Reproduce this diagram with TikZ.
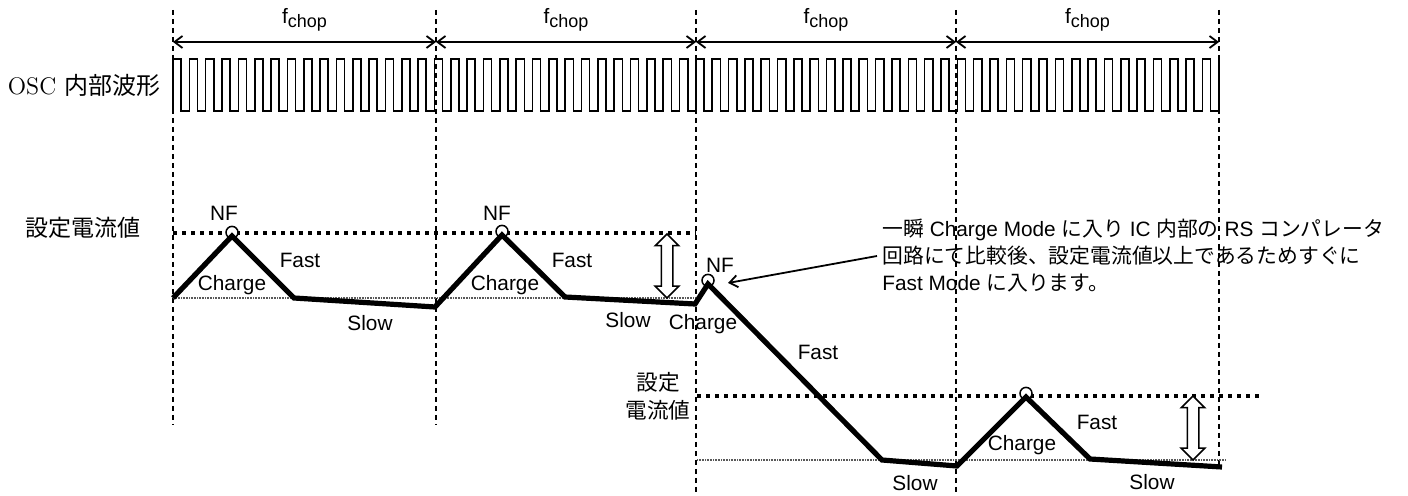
\documentclass[tikz,border=0pt]{standalone}
\usepackage{fontspec}
\newfontfamily\arialfont{Liberation Sans}
\newfontfamily\jpfont{Noto Sans CJK JP}
\newcommand{\jp}[1]{{\jpfont #1}}
\usetikzlibrary{positioning,shapes.arrows,arrows.meta}
\tikzset{
  >={Straight Barb[length=4pt,width=6pt]},
  period line/.style={line width=0.6pt, dash pattern=on 2.5pt off 2pt},
  chop arrow/.style={<->, line width=0.9pt},
  osc wave/.style={line width=0.8pt, line join=miter},
  current trace/.style={line width=2.6pt, line join=miter},
  set level/.style={line width=2pt, dash pattern=on 2.2pt off 2.3pt},
  base level/.style={line width=0.6pt, black!65, dash pattern=on 0.4pt off 0.4pt},
  gap arrow/.style={double arrow, draw, fill=white, line width=0.75pt, shape border rotate=90, inner sep=2.5pt, double arrow head extend=3pt, minimum height=32pt},
  peak mark/.style={circle, draw, fill=white, line width=0.75pt, inner sep=0pt, minimum size=6pt},
  mode label/.style={font=\arialfont\fontsize{10.4}{12}\selectfont, inner sep=0pt},
  side label/.style={font=\fontsize{11.5}{14}\selectfont, inner sep=0pt},
}

\begin{document}
\begin{tikzpicture}[x=0.5pt, y=-0.5pt]
\useasboundingbox (0,0) rectangle (1408,496);
% chopping periods
\foreach \name/\xx/\yy in {tA/173/425, tB/436/425, tC/696/492, tD/956/492, tE/1219/468}
  \draw[period line] (\xx,10) coordinate (\name) -- (\xx,\yy);
\foreach \a/\b in {tA/tB, tB/tC, tC/tD, tD/tE} {
  \draw[chop arrow] ([yshift=-16pt]\a) -- node[mode label, above=5pt] {f\raisebox{-2pt}{\fontsize{9}{9}\selectfont chop}} ([yshift=-16pt]\b);
}
% OSC waveform
\draw[osc wave] (173,111) \foreach \i in {1,...,64} { -- ++(0,-52) -- ++(8.17,0) -- ++(0,52) -- ++(8.17,0) } -- ++(0,-52);
\node[side label, font=\fontsize{12}{14}\selectfont] (osc) at (84,85) {OSC \jp{内部波形}};
\node[side label] (setA) at (83,228) {\jp{設定電流値}};
\node[side label, align=center, font=\fontsize{10.8}{14}\selectfont] (setB) at (658,396) {\jp{設定}\\\jp{電流値}};
% levels
\draw[set level] (173,233) -- (696,233);
\draw[base level] (173,298) -- (696,298);
\draw[set level] (697,396) -- (1262,396);
\draw[base level] (697,460) -- (1226,460);
% coil current
\coordinate (pkA) at (232,236);
\coordinate (pkB) at (502,235);
\coordinate (pkC) at (708,284);
\coordinate (pkD) at (1026,397);
\foreach \p in {pkA,pkB,pkC,pkD}
  \node[peak mark, yshift=1.8pt] at (\p) {};
\draw[current trace] (173,298) -- (pkA) -- (294,298) -- (435,307) -- (pkB) -- (565,297)
  -- (695,304) -- (pkC) -- (882,460) -- (957,466) -- (pkD) -- (1090,459) -- (1222,467);
\node[gap arrow] (gapA) at (667,266) {};
\node[gap arrow] (gapB) at (1193,428) {};
% labels
\node[mode label] at (224,213) {NF};
\node[mode label] at (497,213) {NF};
\node[mode label] at (720,265) {NF};
\node[mode label] at (300,260) {Fast};
\node[mode label] at (572,260) {Fast};
\node[mode label] at (818,352) {Fast};
\node[mode label] at (1097,422) {Fast};
\node[mode label] at (232,285) {Charge};
\node[mode label] at (505,285) {Charge};
\node[mode label] at (703,324) {Charge};
\node[mode label] at (1022,445) {Charge};
\node[mode label] at (370,323) {Slow};
\node[mode label] at (628,320) {Slow};
\node[mode label] at (915,483) {Slow};
\node[mode label] at (1152,482) {Slow};
% note
\node[mode label, anchor=west, align=left, inner sep=2.5pt, font=\arialfont\fontsize{10.4}{13.5}\selectfont] (note) at (877,256)
  {\jp{一瞬} Charge Mode \jp{に入り} IC \jp{内部の} RS \jp{コンパレータ}\\
   \jp{回路にて比較後、設定電流値以上であるためすぐに}\\
   Fast Mode \jp{に入ります。}};
\coordinate (nfTip) at (728,283);
\draw[->, line width=0.9pt] (note.west) -- (nfTip);
\end{tikzpicture}
\end{document}
